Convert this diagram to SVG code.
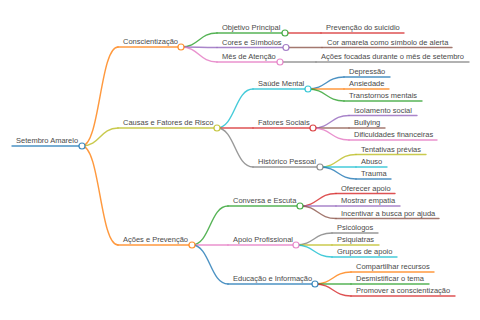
<svg xmlns="http://www.w3.org/2000/svg" width="480" height="320" viewBox="0 0 480 320">
<style>
text{font-family:"Liberation Sans",Arial,Helvetica,sans-serif;font-size:7.5px;fill:#4a4a4a}
path,line{fill:none;stroke-width:1.4;stroke-linecap:round;stroke-opacity:0.8}
circle{fill:#fff;stroke-width:1.2;stroke-opacity:0.85}
.c0{stroke:#1f77b4}.c1{stroke:#ff7f0e}.c2{stroke:#2ca02c}.c3{stroke:#d62728}.c4{stroke:#9467bd}
.c5{stroke:#8c564b}.c6{stroke:#e377c2}.c7{stroke:#7f7f7f}.c8{stroke:#bcbd22}.c9{stroke:#17becf}
</style>
<rect width="480" height="320" fill="#fff"/>
<g id="connectors">
<path class="c1" d="M82 146C100 146 100 47 118 47"/>
<path class="c8" d="M82 146C100 146 100 128 118 128"/>
<path class="c1" d="M82 146C100 146 100 245 118 245"/>
<path class="c2" d="M181 47C199 47 199 33 217 33"/>
<path class="c4" d="M181 47C199 47 199 47.5 217 47.5"/>
<path class="c6" d="M181 47C199 47 199 62 217 62"/>
<path class="c3" d="M285 33L321 33"/>
<path class="c5" d="M286 47.5L322 47.5"/>
<path class="c7" d="M280 62L316 62"/>
<path class="c9" d="M217 128C235 128 235 89 253 89"/>
<path class="c3" d="M217 128L253 128"/>
<path class="c7" d="M217 128C235 128 235 167 253 167"/>
<path class="c0" d="M308 89C326 89 326 77 344 77"/>
<path class="c1" d="M308 89L344 89"/>
<path class="c2" d="M308 89C326 89 326 101 344 101"/>
<path class="c4" d="M313 128C331 128 331 115.5 349 115.5"/>
<path class="c5" d="M313 128L349 128"/>
<path class="c6" d="M313 128C331 128 331 140 349 140"/>
<path class="c8" d="M320 167C338 167 338 154.5 356 154.5"/>
<path class="c9" d="M320 167L356 167"/>
<path class="c0" d="M320 167C338 167 338 179 356 179"/>
<path class="c2" d="M192 245C210 245 210 206 228 206"/>
<path class="c6" d="M192 245L228 245"/>
<path class="c0" d="M192 245C210 245 210 284 228 284"/>
<path class="c3" d="M300 206C318 206 318 193.5 336 193.5"/>
<path class="c4" d="M300 206L336 206"/>
<path class="c5" d="M300 206C318 206 318 218.5 336 218.5"/>
<path class="c7" d="M296 245C314 245 314 233 332 233"/>
<path class="c8" d="M296 245L332 245"/>
<path class="c9" d="M296 245C314 245 314 257 332 257"/>
<path class="c1" d="M315 284C333 284 333 272 351 272"/>
<path class="c2" d="M315 284L351 284"/>
<path class="c3" d="M315 284C333 284 333 296 351 296"/>
</g>
<g id="root"><line class="c0" x1="12" y1="146" x2="82" y2="146"/><circle class="c0" cx="82" cy="146" r="3"/><text x="16" y="143">Setembro Amarelo</text></g>
<g id="conscientizacao"><line class="c1" x1="118" y1="47" x2="181" y2="47"/><circle class="c1" cx="181" cy="47" r="3"/><text x="123" y="44">Conscientização</text></g>
<g id="objetivo"><line class="c2" x1="217" y1="33" x2="285" y2="33"/><circle class="c2" cx="285" cy="33" r="3"/><text x="222" y="30">Objetivo Principal</text></g>
<g id="prevencao"><line class="c3" x1="321" y1="33" x2="404" y2="33"/><text x="326" y="30">Prevenção do suicídio</text></g>
<g id="cores"><line class="c4" x1="217" y1="47.5" x2="286" y2="47.5"/><circle class="c4" cx="286" cy="47.5" r="3"/><text x="222" y="44.5">Cores e Símbolos</text></g>
<g id="cor-amarela"><line class="c5" x1="322" y1="47.5" x2="452" y2="47.5"/><text x="327" y="44.5">Cor amarela como símbolo de alerta</text></g>
<g id="mes"><line class="c6" x1="217" y1="62" x2="280" y2="62"/><circle class="c6" cx="280" cy="62" r="3"/><text x="222" y="59">Mês de Atenção</text></g>
<g id="acoes-focadas"><line class="c7" x1="316" y1="62" x2="469" y2="62"/><text x="321" y="59">Ações focadas durante o mês de setembro</text></g>
<g id="causas"><line class="c8" x1="118" y1="128" x2="217" y2="128"/><circle class="c8" cx="217" cy="128" r="3"/><text x="123" y="125">Causas e Fatores de Risco</text></g>
<g id="saude"><line class="c9" x1="253" y1="89" x2="308" y2="89"/><circle class="c9" cx="308" cy="89" r="3"/><text x="258" y="86">Saúde Mental</text></g>
<g id="depressao"><line class="c0" x1="344" y1="77" x2="390" y2="77"/><text x="349" y="74">Depressão</text></g>
<g id="ansiedade"><line class="c1" x1="344" y1="89" x2="389" y2="89"/><text x="349" y="86">Ansiedade</text></g>
<g id="transtornos"><line class="c2" x1="344" y1="101" x2="422" y2="101"/><text x="349" y="98">Transtornos mentais</text></g>
<g id="fatores"><line class="c3" x1="253" y1="128" x2="313" y2="128"/><circle class="c3" cx="313" cy="128" r="3"/><text x="258" y="125">Fatores Sociais</text></g>
<g id="isolamento"><line class="c4" x1="349" y1="115.5" x2="417" y2="115.5"/><text x="354" y="112.5">Isolamento social</text></g>
<g id="bullying"><line class="c5" x1="349" y1="128" x2="385" y2="128"/><text x="354" y="125">Bullying</text></g>
<g id="dificuldades"><line class="c6" x1="349" y1="140" x2="437" y2="140"/><text x="354" y="137">Dificuldades financeiras</text></g>
<g id="historico"><line class="c7" x1="253" y1="167" x2="320" y2="167"/><circle class="c7" cx="320" cy="167" r="3"/><text x="258" y="164">Histórico Pessoal</text></g>
<g id="tentativas"><line class="c8" x1="356" y1="154.5" x2="426" y2="154.5"/><text x="361" y="151.5">Tentativas prévias</text></g>
<g id="abuso"><line class="c9" x1="356" y1="167" x2="387" y2="167"/><text x="361" y="164">Abuso</text></g>
<g id="trauma"><line class="c0" x1="356" y1="179" x2="391" y2="179"/><text x="361" y="176">Trauma</text></g>
<g id="acoes"><line class="c1" x1="118" y1="245" x2="192" y2="245"/><circle class="c1" cx="192" cy="245" r="3"/><text x="123" y="242">Ações e Prevenção</text></g>
<g id="conversa"><line class="c2" x1="228" y1="206" x2="300" y2="206"/><circle class="c2" cx="300" cy="206" r="3"/><text x="233" y="203">Conversa e Escuta</text></g>
<g id="oferecer"><line class="c3" x1="336" y1="193.5" x2="395" y2="193.5"/><text x="341" y="190.5">Oferecer apoio</text></g>
<g id="empatia"><line class="c4" x1="336" y1="206" x2="400" y2="206"/><text x="341" y="203">Mostrar empatia</text></g>
<g id="incentivar"><line class="c5" x1="336" y1="218.5" x2="439" y2="218.5"/><text x="341" y="215.5">Incentivar a busca por ajuda</text></g>
<g id="apoio"><line class="c6" x1="228" y1="245" x2="296" y2="245"/><circle class="c6" cx="296" cy="245" r="3"/><text x="233" y="242">Apoio Profissional</text></g>
<g id="psicologos"><line class="c7" x1="332" y1="233" x2="378" y2="233"/><text x="337" y="230">Psicólogos</text></g>
<g id="psiquiatras"><line class="c8" x1="332" y1="245" x2="379" y2="245"/><text x="337" y="242">Psiquiatras</text></g>
<g id="grupos"><line class="c9" x1="332" y1="257" x2="397" y2="257"/><text x="337" y="254">Grupos de apoio</text></g>
<g id="educacao"><line class="c0" x1="228" y1="284" x2="315" y2="284"/><circle class="c0" cx="315" cy="284" r="3"/><text x="233" y="281">Educação e Informação</text></g>
<g id="compartilhar"><line class="c1" x1="351" y1="272" x2="434" y2="272"/><text x="356" y="269">Compartilhar recursos</text></g>
<g id="desmistificar"><line class="c2" x1="351" y1="284" x2="429" y2="284"/><text x="356" y="281">Desmistificar o tema</text></g>
<g id="promover"><line class="c3" x1="351" y1="296" x2="455" y2="296"/><text x="356" y="293">Promover a conscientização</text></g>
</svg>
